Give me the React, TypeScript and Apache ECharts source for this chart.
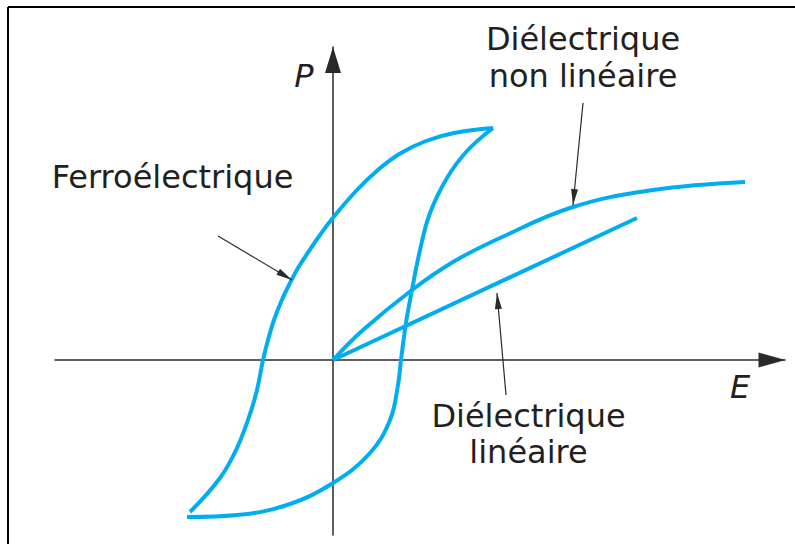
import React, { useEffect, useRef } from "react";
import * as echarts from "echarts";

// Ferroelectric hysteresis loop: rising (left/upper) branch, from lower-left tip to upper-right tip
const ferroUpperE = [-1.43, -1.13, -0.96, -0.83, -0.76, -0.70, -0.65, -0.59, -0.52, -0.44, -0.35, -0.24, -0.13, -0.01, 0.23, 0.46, 0.68, 0.93, 1.21, 1.60];
const ferroUpperP = [-1.52, -1.18, -0.88, -0.54, -0.30, 0, 0.20, 0.40, 0.58, 0.75, 0.92, 1.09, 1.25, 1.41, 1.69, 1.91, 2.07, 2.19, 2.27, 2.32];
// lower/right branch, from lower-left tip to upper-right tip
const ferroLowerE = [-1.46, -0.96, -0.46, 0, 0.37, 0.57, 0.65, 0.68, 0.73, 0.79, 0.87, 0.97, 1.14, 1.34, 1.60];
const ferroLowerP = [-1.57, -1.55, -1.45, -1.23, -0.93, -0.60, -0.25, 0, 0.37, 0.70, 1.10, 1.47, 1.82, 2.09, 2.32];
// Non-linear dielectric
const nonLinE = [0, 0.30, 0.79, 1.20, 1.67, 2.40, 3.20, 4.12];
const nonLinP = [0, 0.30, 0.70, 0.98, 1.22, 1.53, 1.70, 1.78];
// Linear dielectric
const linE = [0, 3.04];
const linP = [0, 1.42];

// Annotation arrows: [tailE, tailP, tipE, tipP]
const arrowFerro = [-1.15, 1.24, -0.41, 0.80];
const arrowNonLin = [2.50, 2.57, 2.40, 1.55];
const arrowLin = [1.73, -0.35, 1.64, 0.67];

const E_MIN = -2.78;
const E_MAX = 4.52;
const P_MIN = -1.75;
const P_MAX = 3.13;

const labelFerro = "Ferroélectrique";
const labelNonLin = ["Diélectrique", "non linéaire"];
const labelLin = ["Diélectrique", "linéaire"];

const CURVE = "#00aeef";
const INK = "#231f20";
const FONT = "DejaVu Sans";

const zip = (xs: number[], ys: number[]) => xs.map((x, i) => [x, ys[i]]);

const arrowLine = (a: number[]) => [
  { coord: [a[0], a[1]], symbol: "none" },
  { coord: [a[2], a[3]], symbol: "triangle", symbolSize: [7, 16], symbolOffset: [0, 8] },
];

export default function App() {
  const ref = useRef<HTMLDivElement>(null);
  useEffect(() => {
    if (!ref.current) return;
    const chart = echarts.init(ref.current, null, { renderer: "svg" });
    const curve = (name: string, data: number[][], extra: any = {}) => ({
      name,
      type: "line",
      data,
      smooth: 0.4,
      showSymbol: false,
      symbol: "none",
      silent: true,
      lineStyle: { color: CURVE, width: 4, cap: "butt" },
      ...extra,
    });
    const text = (t: string, x: number, y: number, italic = false) => ({
      type: "text",
      x,
      y,
      silent: true,
      style: {
        text: t,
        fill: INK,
        font: `${italic ? "italic " : ""}32px "${FONT}"`,
        textAlign: "center",
        textVerticalAlign: "middle",
      },
    });
    chart.setOption({
      animation: false,
      backgroundColor: "#ffffff",
      grid: { left: 55, right: 10, top: 47, bottom: 9, containLabel: false },
      xAxis: {
        type: "value",
        min: E_MIN,
        max: E_MAX,
        axisLine: {
          show: true,
          onZero: true,
          symbol: ["none", "triangle"],
          symbolSize: [15, 27],
          symbolOffset: [0, -13],
          lineStyle: { color: "#2a2a2a", width: 1.5 },
        },
        axisTick: { show: false },
        axisLabel: { show: false },
        splitLine: { show: false },
      },
      yAxis: {
        type: "value",
        min: P_MIN,
        max: P_MAX,
        axisLine: {
          show: true,
          onZero: true,
          symbol: ["none", "triangle"],
          symbolSize: [16, 26],
          symbolOffset: [0, -13],
          lineStyle: { color: "#2a2a2a", width: 1.5 },
        },
        axisTick: { show: false },
        axisLabel: { show: false },
        splitLine: { show: false },
      },
      series: [
        curve("ferroUpper", zip(ferroUpperE, ferroUpperP)),
        curve("ferroLower", zip(ferroLowerE, ferroLowerP)),
        curve("nonLin", zip(nonLinE, nonLinP)),
        curve("lin", zip(linE, linP), {
          smooth: false,
          markLine: {
            silent: true,
            animation: false,
            label: { show: false },
            lineStyle: { color: "#2a2a2a", width: 1.2, type: "solid" },
            emphasis: { disabled: true },
            data: [arrowLine(arrowFerro), arrowLine(arrowNonLin), arrowLine(arrowLin)],
          },
        }),
      ],
      graphic: [
        { type: "line", silent: true, shape: { x1: 8, y1: 7, x2: 795, y2: 7 }, style: { stroke: "#000", lineWidth: 2 } },
        { type: "line", silent: true, shape: { x1: 8, y1: 7, x2: 8, y2: 544 }, style: { stroke: "#000", lineWidth: 2 } },
        text(labelNonLin[0], 583, 38.5),
        text(labelNonLin[1], 583, 75.5),
        text(labelFerro, 172.5, 176.5),
        text(labelLin[0], 528.5, 415.5),
        text(labelLin[1], 528.5, 451.5),
        text("P", 304, 76, true),
        text("E", 740, 387, true),
      ],
    });
    return () => chart.dispose();
  }, []);
  return (
    <div
      ref={ref}
      style={{ position: "fixed", left: 0, top: 0, width: 795, height: 544, background: "#fff" }}
    />
  );
}
